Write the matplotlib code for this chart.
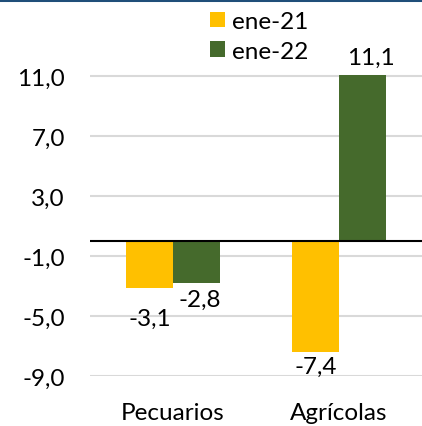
import matplotlib
matplotlib.use("Agg")
import matplotlib.pyplot as plt
import numpy as np
from matplotlib.lines import Line2D

categories = ["Pecuarios", "Agrícolas"]
series_names = ["ene-21", "ene-22"]
ene21 = [-3.1, -7.4]
ene22 = [-2.8, 11.1]
yticks = [-9, -5, -1, 3, 7, 11]

colors = ["#FFC000", "#456A2C"]
plt.rcParams['font.family'] = ['Lato', 'DejaVu Sans']
FS = 17.5

fig = plt.figure(figsize=(4.22, 4.27), dpi=100)
ax = fig.add_axes([90/422, 1-377/427, 332/422, (377-74)/427])

x = np.arange(len(categories))
w = 0.283
b1 = ax.bar(x - w/2, ene21, w, color=colors[0], label=series_names[0], zorder=3)
b2 = ax.bar(x + w/2, ene22, w, color=colors[1], label=series_names[1], zorder=3)

ax.set_xlim(-0.5, 1.5)
ax.set_ylim(-9, 11.2)
ax.set_yticks(yticks)
ax.set_yticklabels([f"{v:.1f}".replace(".", ",") for v in yticks], fontsize=FS, color="#000000")
ax.set_xticks(x)
ax.set_xticklabels(categories, fontsize=FS)
ax.tick_params(axis='y', length=0, pad=18)
ax.tick_params(axis='x', length=0, pad=19)
for s in ax.spines.values():
    s.set_visible(False)
ax.grid(axis='y', color="#D9D9D9", linewidth=1.5, zorder=0)
ax.axhline(0, color="black", linewidth=1.5, zorder=4)

# data labels: (series index, category index, baseline value, x offset)
labels = [
    (0, 0, -5.6, 0.0),
    (1, 0, -4.33, 0.02),
    (0, 1, -8.8, 0.0),
    (1, 1, 11.8, 0.05),
]
vals = [ene21, ene22]
for si, ci, yb, dx in labels:
    xc = x[ci] + (-w/2 if si == 0 else w/2) + dx
    ax.text(xc, yb, f"{vals[si][ci]:.1f}".replace(".", ","), ha='center', va='baseline',
            fontsize=FS, clip_on=False, zorder=5)

leg = ax.legend(loc='upper left', bbox_to_anchor=(210/422, 1-12/427), bbox_transform=fig.transFigure,
                frameon=False, fontsize=FS, handlelength=0.6, handleheight=0.6,
                handletextpad=0.3, labelspacing=0.35, borderpad=0, borderaxespad=0)

fig.add_artist(Line2D([0, 1], [1-1/427, 1-1/427], transform=fig.transFigure,
                      color="#1F4E79", linewidth=2.2))

fig.savefig("out.png", dpi=100)
